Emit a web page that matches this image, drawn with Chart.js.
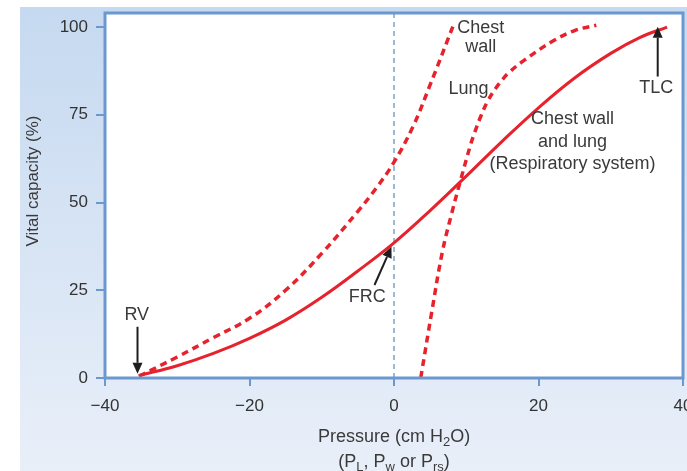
<!DOCTYPE html>
<html>
<head>
<meta charset="utf-8">
<script src="https://cdn.jsdelivr.net/npm/chart.js@4"></script>
<style>
  html, body { margin: 0; padding: 0; background: #fff; }
  canvas { display: block; }
</style>
</head>
<body>
<canvas id="chart" width="687" height="471"></canvas>
<script>
// Pressure-volume curves
const respPressure = [-35.3, -30, -25, -20, -15, -10, -5, 0, 5, 10, 15, 20, 25, 30, 34, 37.8];
const respVolume   = [0.7, 3.5, 7, 11.3, 16.5, 23, 30.5, 38.5, 47.7, 57.5, 67.5, 77, 85.5, 92.5, 97, 100];

const chestPressure = [-35.3, -30, -25, -20, -15, -10, -5, -2.5, 0, 2.6, 4.9, 8.4];
const chestVolume   = [0.5, 6, 11.5, 17, 25, 35.5, 47.5, 54, 61.5, 71.5, 83, 101.5];

const lungPressure = [3.7, 5.2, 6.7, 8, 9.1, 10.6, 11, 12, 13, 14, 15, 16, 18, 22, 25, 28];
const lungVolume   = [0, 18.5, 36, 47, 55.5, 66.5, 69, 74.5, 79, 82.3, 85, 87.2, 90.5, 96, 99, 100.5];

const xTicks = [-40, -20, 0, 20, 40];
const yTicks = [0, 25, 50, 75, 100];

const RED = '#e6222c';
const FRAME = '#6b98cf';
const TEXT = '#3a3a3a';
const FONT = '"Liberation Sans", Arial, sans-serif';

const pts = (xs, ys) => xs.map((x, i) => ({ x, y: ys[i] }));

// labels and arrows, in data units
const labels = [
  { t: 'Chest', x: 12.0, y: 99.6 },
  { t: 'wall', x: 12.0, y: 94.2 },
  { t: 'Lung', x: 10.3, y: 82.2 },
  { t: 'Chest wall', x: 24.7, y: 73.9 },
  { t: 'and lung', x: 24.7, y: 67.3 },
  { t: '(Respiratory system)', x: 24.7, y: 61.1 },
  { t: 'TLC', x: 36.3, y: 82.5 },
  { t: 'RV', x: -35.6, y: 18 },
  { t: 'FRC', x: -3.7, y: 23.1 }
];
const arrows = [
  { x0: 36.5, y0: 85.9, x1: 36.5, y1: 100.1 },
  { x0: -35.5, y0: 14.6, x1: -35.5, y1: 1.2 },
  { x0: -2.7, y0: 26.5, x1: -0.35, y1: 37.4 }
];

function drawRich(ctx, parts, cx, cy, size) {
  const subSize = Math.round(size * 0.7);
  let w = 0;
  parts.forEach(p => {
    ctx.font = (p.sub ? subSize : size) + 'px ' + FONT;
    p.w = ctx.measureText(p.t).width;
    w += p.w;
  });
  let x = cx - w / 2;
  ctx.textAlign = 'left';
  ctx.textBaseline = 'middle';
  parts.forEach(p => {
    ctx.font = (p.sub ? subSize : size) + 'px ' + FONT;
    ctx.fillText(p.t, x, p.sub ? cy + size * 0.3 : cy);
    x += p.w;
  });
}

const decor = {
  id: 'decor',
  beforeDraw(chart) {
    const { ctx, chartArea: a } = chart;
    ctx.save();
    ctx.fillStyle = '#fff';
    ctx.fillRect(0, 0, chart.width, chart.height);
    const g = ctx.createLinearGradient(0, 7, 0, chart.height);
    g.addColorStop(0, '#c5d9f0');
    g.addColorStop(1, '#e9eff9');
    ctx.fillStyle = g;
    ctx.fillRect(20, 7, chart.width - 20, chart.height - 7);
    ctx.fillStyle = '#fff';
    ctx.fillRect(a.left, a.top, a.right - a.left, a.bottom - a.top);
    ctx.restore();
  },
  afterDraw(chart) {
    const { ctx, chartArea: a, scales: { x, y } } = chart;
    ctx.save();
    ctx.strokeStyle = FRAME;
    ctx.lineWidth = 3;
    ctx.strokeRect(a.left, a.top, a.right - a.left, a.bottom - a.top);

    ctx.fillStyle = TEXT;
    ctx.font = '18px ' + FONT;
    ctx.textAlign = 'center';
    ctx.textBaseline = 'middle';
    labels.forEach(l => ctx.fillText(l.t, x.getPixelForValue(l.x), y.getPixelForValue(l.y)));

    ctx.strokeStyle = '#1e1e1e';
    ctx.fillStyle = '#1e1e1e';
    ctx.lineWidth = 2;
    arrows.forEach(ar => {
      const px0 = x.getPixelForValue(ar.x0), py0 = y.getPixelForValue(ar.y0);
      const px1 = x.getPixelForValue(ar.x1), py1 = y.getPixelForValue(ar.y1);
      const ang = Math.atan2(py1 - py0, px1 - px0);
      const hl = 11, hw = 5;
      const bx = px1 - hl * Math.cos(ang), by = py1 - hl * Math.sin(ang);
      ctx.beginPath();
      ctx.moveTo(px0, py0);
      ctx.lineTo(bx, by);
      ctx.stroke();
      ctx.beginPath();
      ctx.moveTo(px1, py1);
      ctx.lineTo(bx + hw * Math.sin(ang), by - hw * Math.cos(ang));
      ctx.lineTo(bx - hw * Math.sin(ang), by + hw * Math.cos(ang));
      ctx.closePath();
      ctx.fill();
    });

    // axis titles
    ctx.fillStyle = TEXT;
    ctx.save();
    ctx.translate(33, 181);
    ctx.rotate(-Math.PI / 2);
    ctx.font = '17px ' + FONT;
    ctx.textAlign = 'center';
    ctx.fillText('Vital capacity (%)', 0, 0);
    ctx.restore();
    drawRich(ctx, [{ t: 'Pressure (cm H' }, { t: '2', sub: true }, { t: 'O)' }], 394, 437, 18);
    drawRich(ctx, [{ t: '(P' }, { t: 'L', sub: true }, { t: ', P' }, { t: 'w', sub: true },
      { t: ' or P' }, { t: 'rs', sub: true }, { t: ')' }], 394, 462, 18);
    ctx.restore();
  }
};

const line = (data, dash, width) => ({
  data,
  showLine: true,
  borderColor: RED,
  borderWidth: width,
  borderDash: dash,
  pointRadius: 0,
  tension: 0.4,
  fill: false
});

new Chart(document.getElementById('chart'), {
  type: 'scatter',
  data: {
    datasets: [
      line(pts(respPressure, respVolume), [], 3),
      line(pts(chestPressure, chestVolume), [7, 5], 3.5),
      line(pts(lungPressure, lungVolume), [7, 5], 3.5),
      {
        data: [{ x: 0, y: 0 }, { x: 0, y: 104 }],
        showLine: true,
        borderColor: '#7fa3c6',
        borderWidth: 1.5,
        borderDash: [5, 4],
        pointRadius: 0
      }
    ]
  },
  options: {
    responsive: false,
    animation: false,
    devicePixelRatio: 1,
    layout: { padding: { top: 13, right: 4, left: 0, bottom: 0 } },
    plugins: { legend: { display: false }, tooltip: { enabled: false } },
    scales: {
      x: {
        type: 'linear',
        min: -40,
        max: 40,
        afterBuildTicks: s => { s.ticks = xTicks.map(v => ({ value: v })); },
        afterFit: s => { s.height = 93; s.paddingLeft = 0; s.paddingRight = 0; },
        ticks: {
          color: '#333',
          padding: 10,
          font: { size: 17, family: FONT },
          callback: v => String(v).replace('-', '\u2212')
        },
        grid: { drawOnChartArea: false, color: FRAME, lineWidth: 2, tickLength: 8 },
        border: { display: false }
      },
      y: {
        min: 0,
        max: 104,
        afterBuildTicks: s => { s.ticks = yTicks.map(v => ({ value: v })); },
        afterFit: s => { s.width = 105; s.paddingTop = 0; s.paddingBottom = 0; },
        ticks: {
          color: '#333',
          padding: 8,
          font: { size: 17, family: FONT }
        },
        grid: { drawOnChartArea: false, color: FRAME, lineWidth: 2, tickLength: 9 },
        border: { display: false }
      }
    }
  },
  plugins: [decor]
});
</script>
</body>
</html>
